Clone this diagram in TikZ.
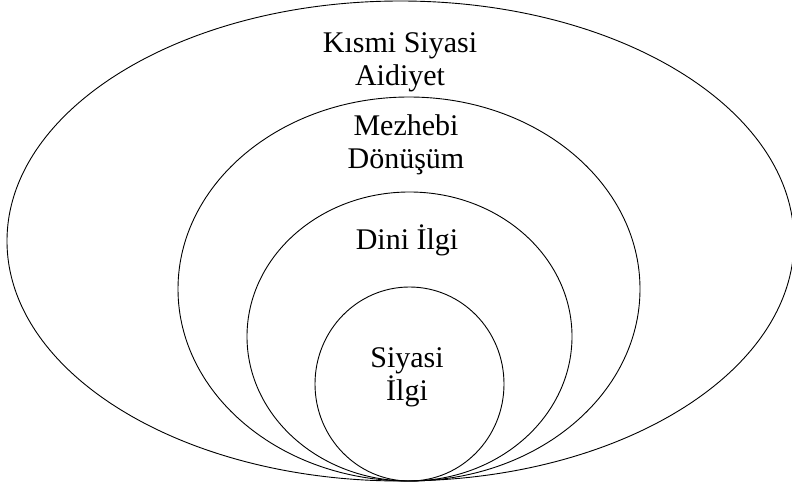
\documentclass[tikz,border=0pt]{standalone}
\usepackage{fontspec}
\setmainfont{Liberation Serif}
\usepackage{tikz}

\begin{document}
\begin{tikzpicture}[x=1pt,y=-1pt,
 ring/.style={draw,line width=0.9pt},
 lbl/.style={align=center,inner sep=0pt,font=\fontsize{30}{33}\selectfont}]
\useasboundingbox (0,0) rectangle (792,489);
\clip (0,0) rectangle (792,489);
\draw[ring] (400.5,241) ellipse [x radius=393.5,y radius=240];
\draw[ring] (409,289) ellipse [x radius=231,y radius=192];
\draw[ring] (409.5,336.5) ellipse [x radius=162.5,y radius=144.5];
\draw[ring] (409.5,384) ellipse [x radius=94.5,y radius=97];
\node[lbl] (aidiyet) at (400,62) {Kısmi Siyasi\\Aidiyet};
\node[lbl] (donusum) at (406,145) {Mezhebi\\Dönüşüm};
\node[lbl] (dini) at (407,240) {Dini İlgi};
\node[lbl] (siyasi) at (407,377) {Siyasi\\İlgi};
\end{tikzpicture}
\end{document}
